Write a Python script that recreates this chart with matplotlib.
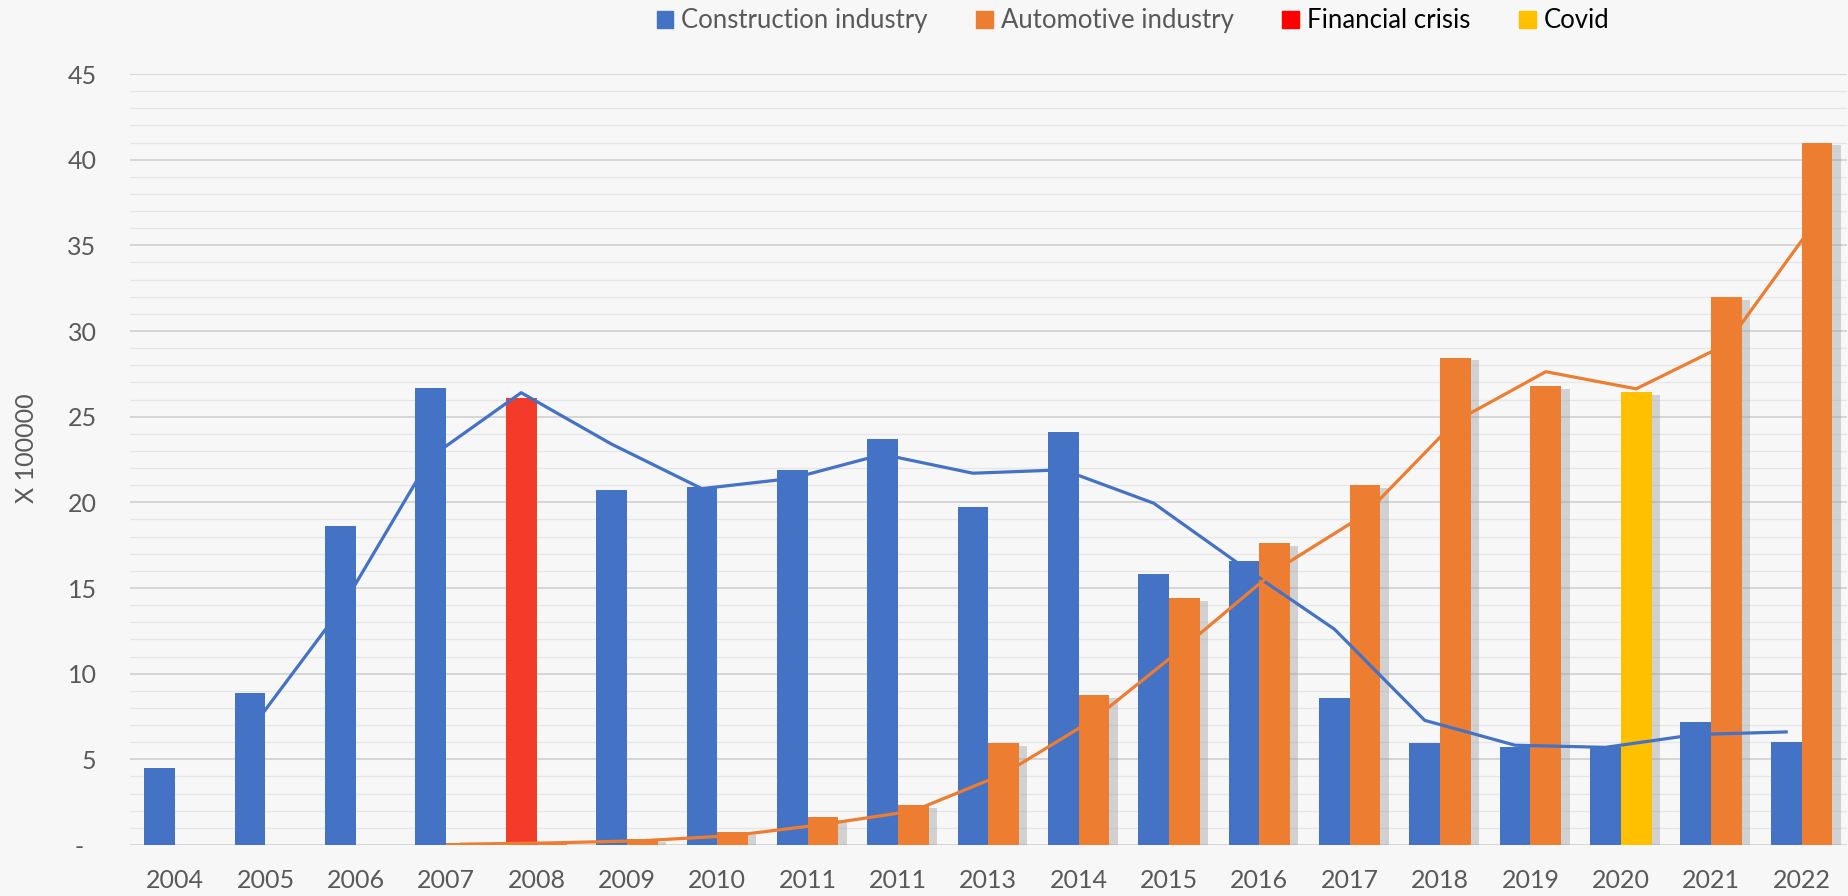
import matplotlib
matplotlib.use("Agg")
import matplotlib.pyplot as plt
import matplotlib.patheffects as pe
from matplotlib.patches import Patch
import numpy as np
import pandas as pd

plt.rcParams['font.family'] = ['Lato', 'DejaVu Sans']

years = ["2004", "2005", "2006", "2007", "2008", "2009", "2010", "2011", "2011",
         "2013", "2014", "2015", "2016", "2017", "2018", "2019", "2020", "2021", "2022"]
construction = [4.5, 8.9, 18.6, 26.7, 26.1, 20.7, 20.9, 21.9, 23.7,
                19.7, 24.1, 15.8, 16.6, 8.6, 5.95, 5.7, 5.7, 7.2, 6.0]
automotive = [np.nan, np.nan, 0.0, 0.1, 0.15, 0.35, 0.75, 1.65, 2.33,
              5.95, 8.75, 14.4, 17.6, 21.0, 28.45, 26.8, 26.45, 32.0, 41.0]
crisis_year = "2008"   # construction bar highlighted
covid_year = "2020"    # automotive bar highlighted

BLUE = "#4472C4"
ORANGE = "#ED7D31"
RED_BAR = "#F43B2A"
YELLOW = "#FFC000"
BG = "#f7f7f7"
GREY_TXT = "#595959"

x = np.arange(len(years))
w = 0.34

# Excel-style 2-period moving average trendlines
blue_trend = pd.Series(construction).rolling(2).mean()
orange_trend = pd.Series(automotive).rolling(2).mean()

fig = plt.figure(figsize=(18.48, 8.96), dpi=100, facecolor=BG)
ax = fig.add_axes([0.0703, 0.0569, 0.929, 0.8605], facecolor=BG)

c_cols = [RED_BAR if y == crisis_year else BLUE for y in years]
a_cols = [YELLOW if y == covid_year else ORANGE for y in years]

ax.bar(x - w / 2, construction, width=w, color=c_cols, zorder=2)
obars = ax.bar(x + w / 2, automotive, width=w, color=a_cols, zorder=2)
for b in obars:
    b.set_path_effects([pe.SimplePatchShadow(offset=(6, -2), shadow_rgbFace="#999999", alpha=0.4),
                        pe.Normal()])

ax.plot(x - w / 2, blue_trend, color=BLUE, lw=2.3, zorder=3)
ax.plot(x + w / 2, orange_trend, color=ORANGE, lw=2.3, zorder=3)

ax.set_xlim(-0.5, len(years) - 0.5)
ax.set_ylim(0, 45)
ax.set_yticks(np.arange(0, 46, 5))
ax.set_yticklabels(["-  "] + [str(v) for v in range(5, 46, 5)])
ax.set_yticks(np.arange(0, 46, 1), minor=True)
ax.set_xticks(x)
ax.set_xticklabels(years)
ax.tick_params(axis="both", which="both", length=0, labelsize=18, colors=GREY_TXT)
ax.tick_params(axis="y", pad=24)
ax.tick_params(axis="x", pad=17)

ax.grid(axis="y", which="major", color="#d3d3d3", lw=1.3, zorder=0)
ax.grid(axis="y", which="minor", color="#e6e6e6", lw=0.9, zorder=0)
ax.set_axisbelow(True)
for s in ax.spines.values():
    s.set_visible(False)

fig.text(0.0146, 0.5, "X 100000", rotation=90, ha="center", va="center",
         fontsize=18, color=GREY_TXT)

handles = [Patch(color=BLUE), Patch(color=ORANGE), Patch(color="#FF0000"), Patch(color=YELLOW)]
labels = ["Construction industry", "Automotive industry", "Financial crisis", "Covid"]
leg = fig.legend(handles, labels, loc="center", bbox_to_anchor=(0.613, 0.977), ncol=4,
                 frameon=False, fontsize=18.5, handlelength=0.65, handleheight=0.65,
                 handletextpad=0.3, columnspacing=1.9)
for t, c in zip(leg.get_texts(), [GREY_TXT, GREY_TXT, "black", "black"]):
    t.set_color(c)

fig.savefig("out.png", dpi=100, facecolor=BG)
